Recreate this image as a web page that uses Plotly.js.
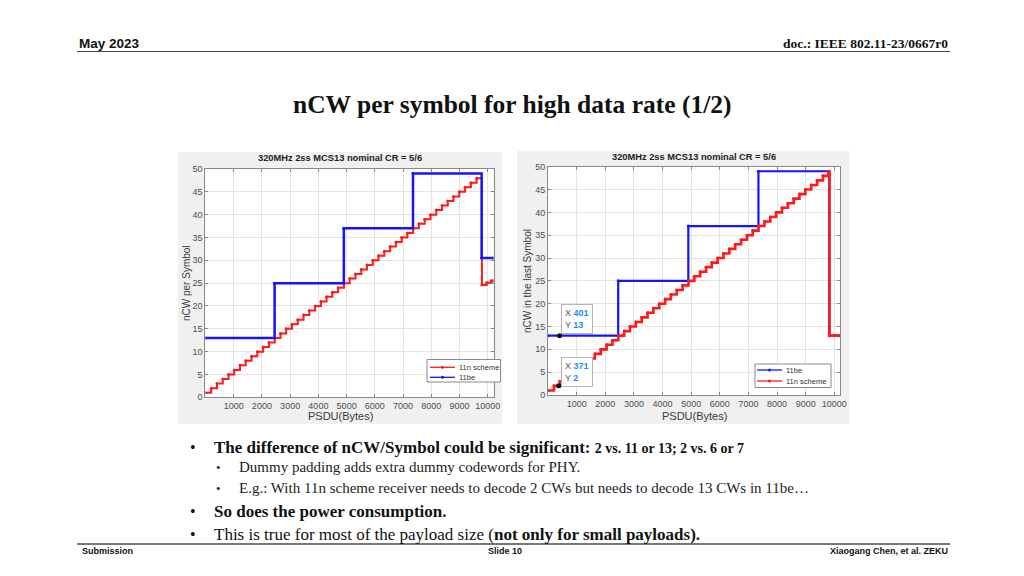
<!DOCTYPE html>
<html><head><meta charset="utf-8">
<script src="https://cdn.plot.ly/plotly-3.0.1.min.js"></script>
<style>html,body{margin:0;padding:0;background:#fff;}#chart{width:1024px;height:576px;}</style>
</head><body><div id="chart"></div>
<script>
// ---- data ----
const chartTitle = "320MHz 2ss MCS13 nominal CR = 5/6";
const xTicks = [1000,2000,3000,4000,5000,6000,7000,8000,9000,10000];
const yTicks = [0,5,10,15,20,25,30,35,40,45,50];

// left chart: nCW per Symbol
const leftN11X = [0,205,410,615,820,1020,1225,1430,1635,1840,2045,2250,2455,2660,2860,3065,3270,3475,3680,3885,4090,4290,4495,4700,4905,5110,5315,5520,5720,5925,6130,6335,6540,6745,6950,7150,7355,7560,7765,7970,8175,8380,8580,8785,8990,9195,9400,9605,9790,9960,10130,10200];
const leftN11Y = [1,2,3,4,5,6,7,8,9,10,11,12,13,14,15,16,17,18,19,20,21,22,23,24,25,26,27,28,29,30,31,32,33,34,35,36,37,38,39,40,41,42,43,44,45,46,47,48,24.6,25.1,25.5,25.5];
const leftBeX = [0,2450,4900,7350,9780,10200];
const leftBeY = [13,25,37,49,30.5,30.5];
const leftSeries = ['11n scheme', '11be'];

// right chart: nCW in the last Symbol
const rightN11X = [0,205,410,615,820,1020,1225,1430,1635,1840,2045,2250,2455,2660,2860,3065,3270,3475,3680,3885,4090,4290,4495,4700,4905,5110,5315,5520,5720,5925,6130,6335,6540,6745,6950,7150,7355,7560,7765,7970,8175,8380,8580,8785,8990,9195,9400,9605,9790,9830,10200];
const rightN11Y = [1,2,3,4,5,6,7,8,9,10,11,12,13,14,15,16,17,18,19,20,21,22,23,24,25,26,27,28,29,30,31,32,33,34,35,36,37,38,39,40,41,42,43,44,45,46,47,48,49,13,13];
const rightBeX = [0,2450,4900,7350,9830,10200];
const rightBeY = [13,25,37,49,13,13];
const rightSeries = ['11be', '11n scheme'];

// data tips on the right chart
const tipX = [401, 371];
const tipY = [13, 2];

const RED = '#ff1a1a', BLUE = '#1414ff';
const W = 1024, H = 576;
const px = x => x / W, py = y => 1 - y / H;

const traces = [
  {x: leftN11X, y: leftN11Y, xaxis: 'x', yaxis: 'y', name: leftSeries[0], mode: 'lines+markers',
   line: {shape: 'hv', color: RED, width: 2}, marker: {size: 3, color: RED}},
  {x: leftBeX, y: leftBeY, xaxis: 'x', yaxis: 'y', name: leftSeries[1], mode: 'lines+markers',
   line: {shape: 'hv', color: BLUE, width: 2.5}, marker: {size: 3, color: BLUE}},
  {x: rightBeX, y: rightBeY, xaxis: 'x2', yaxis: 'y2', name: rightSeries[0], mode: 'lines+markers',
   line: {shape: 'hv', color: BLUE, width: 2.2}, marker: {size: 3, color: BLUE}},
  {x: rightN11X, y: rightN11Y, xaxis: 'x2', yaxis: 'y2', name: rightSeries[1], mode: 'lines+markers',
   line: {shape: 'hv', color: RED, width: 2.6}, marker: {size: 3, color: RED}},
  {x: tipX, y: tipY, xaxis: 'x2', yaxis: 'y2', mode: 'markers', name: 'data tip',
   marker: {size: 5, color: '#111'}}
];

const tickFont = {family: 'Liberation Sans, Arial, sans-serif', size: 9, color: '#4d4d4d'};
function xa(domain, anchor) {
  return {domain: domain, anchor: anchor, range: [0, 10200], tickvals: xTicks, ticktext: xTicks.map(String),
    showgrid: true, gridcolor: '#e3e3e3', gridwidth: 1, zeroline: false,
    showline: true, mirror: 'ticks', linecolor: '#8a8a8a', linewidth: 1,
    ticks: 'inside', ticklen: 3, tickcolor: '#8a8a8a', tickfont: tickFont, fixedrange: true};
}
function ya(domain, anchor) {
  return {domain: domain, anchor: anchor, range: [0, 50], tickvals: yTicks, ticktext: yTicks.map(String),
    showgrid: true, gridcolor: '#e3e3e3', gridwidth: 1, zeroline: false,
    showline: true, mirror: 'ticks', linecolor: '#8a8a8a', linewidth: 1,
    ticks: 'inside', ticklen: 3, tickcolor: '#8a8a8a', tickfont: tickFont, fixedrange: true};
}

const serif = 'Liberation Serif, Times New Roman, serif';
const narrow = 'Liberation Sans Narrow, Arial Narrow, Liberation Sans, sans-serif';
const sans = 'Liberation Sans, Arial, sans-serif';

function txt(x, y, text, opts) {
  return Object.assign({xref: 'paper', yref: 'paper', x: px(x), y: py(y), text: text,
    showarrow: false, xanchor: 'left', yanchor: 'middle'}, opts || {});
}

const legendFont = {family: sans, size: 7.5, color: '#333'};
const annotations = [
  txt(77, 44, '<b>May 2023</b>', {font: {family: narrow, size: 13.5, color: '#111'}}),
  txt(950, 44, '<b>doc.: IEEE 802.11-23/0667r0</b>', {xanchor: 'right', font: {family: serif, size: 13.5, color: '#111'}}),
  txt(512, 104, '<b>nCW per symbol for high data rate (1/2)</b>', {xanchor: 'center', font: {family: serif, size: 25.5, color: '#111'}}),
  // chart texts
  txt(340, 158, '<b>' + chartTitle + '</b>', {xanchor: 'center', font: {family: sans, size: 9.3, color: '#222'}}),
  txt(694, 157, '<b>' + chartTitle + '</b>', {xanchor: 'center', font: {family: sans, size: 9.3, color: '#222'}}),
  txt(340, 416, 'PSDU(Bytes)', {xanchor: 'center', font: {family: sans, size: 11, color: '#3a3a3a'}}),
  txt(694, 416, 'PSDU(Bytes)', {xanchor: 'center', font: {family: sans, size: 11, color: '#3a3a3a'}}),
  txt(186, 283, 'nCW per Symbol', {xanchor: 'center', textangle: -90, font: {family: sans, size: 10, color: '#3a3a3a'}}),
  txt(527, 281, 'nCW in the last Symbol', {xanchor: 'center', textangle: -90, font: {family: sans, size: 10, color: '#3a3a3a'}}),
  // data tips
  txt(561, 304, 'X <b><span style="color:#1a8cff">' + tipX[0] + '</span></b><br>Y <b><span style="color:#1a8cff">' + tipY[0] + '</span></b>',
    {yanchor: 'top', align: 'left', bgcolor: '#ffffff', bordercolor: '#b5b5b5', borderwidth: 1, borderpad: 3,
     font: {family: sans, size: 9, color: '#555'}}),
  txt(561, 357, 'X <b><span style="color:#1a8cff">' + tipX[1] + '</span></b><br>Y <b><span style="color:#1a8cff">' + tipY[1] + '</span></b>',
    {yanchor: 'top', align: 'left', bgcolor: '#ffffff', bordercolor: '#b5b5b5', borderwidth: 1, borderpad: 3,
     font: {family: sans, size: 9, color: '#555'}}),
  // custom legends
  txt(457, 367.3, leftSeries[0], {font: legendFont}),
  txt(457, 377.3, leftSeries[1], {font: legendFont}),
  txt(784, 370, rightSeries[0], {font: legendFont}),
  txt(784, 381, rightSeries[1], {font: legendFont}),
  // bullets
  txt(188, 447, '•', {font: {family: serif, size: 16, color: '#111'}}),
  txt(212, 447, '<b>The difference of nCW/Symbol could be significant: <span style="font-size:14px">2 vs. 11 or 13; 2 vs. 6 or 7</span></b>', {font: {family: serif, size: 17, color: '#111'}}),
  txt(214, 467, '•', {font: {family: serif, size: 13, color: '#222'}}),
  txt(237, 467, 'Dummy padding adds extra dummy codewords for PHY.', {font: {family: serif, size: 15, color: '#222'}}),
  txt(214, 488, '•', {font: {family: serif, size: 13, color: '#222'}}),
  txt(237, 488, 'E.g.: With 11n scheme receiver needs to decode 2 CWs but needs to decode 13 CWs in 11be…', {font: {family: serif, size: 15, color: '#222'}}),
  txt(188, 511, '•', {font: {family: serif, size: 16, color: '#111'}}),
  txt(212, 511, '<b>So does the power consumption.</b>', {font: {family: serif, size: 17, color: '#111'}}),
  txt(188, 534, '•', {font: {family: serif, size: 16, color: '#111'}}),
  txt(212, 534, 'This is true for most of the payload size (<b>not only for small payloads).</b>', {font: {family: serif, size: 17, color: '#111'}}),
  // footer
  txt(80, 551, '<b>Submission</b>', {font: {family: narrow, size: 9, color: '#111'}}),
  txt(505, 551, '<b>Slide 10</b>', {xanchor: 'center', font: {family: narrow, size: 9, color: '#111'}}),
  txt(950, 551, '<b>Xiaogang Chen, et al. ZEKU</b>', {xanchor: 'right', font: {family: narrow, size: 9, color: '#111'}})
];

function rect(x0, y0, x1, y1, fill, layer, lineColor) {
  return {type: 'rect', xref: 'paper', yref: 'paper', x0: px(x0), x1: px(x1), y0: py(y1), y1: py(y0),
    fillcolor: fill, line: lineColor ? {color: lineColor, width: 1} : {width: 0}, layer: layer || 'below'};
}
function hline(x0, x1, y, color, width) {
  return {type: 'line', xref: 'paper', yref: 'paper', x0: px(x0), x1: px(x1), y0: py(y), y1: py(y),
    line: {color: color, width: width}, layer: 'above'};
}
function dot(x, y, color) {
  return {type: 'circle', xref: 'paper', yref: 'paper', x0: px(x - 1.5), x1: px(x + 1.5), y0: py(y + 1.5), y1: py(y - 1.5),
    fillcolor: color, line: {width: 0}, layer: 'above'};
}
const shapes = [
  rect(178, 152, 502, 424, '#f0f0f0'),
  rect(517, 151, 849, 424, '#f0f0f0'),
  rect(205.4, 169, 493.5, 397.3, '#ffffff'),
  rect(548.1, 166.7, 840, 395, '#ffffff'),
  hline(77, 950, 51.5, '#444', 1),
  hline(77, 950, 544, '#777', 2),
  // left legend
  rect(427, 359.5, 500.5, 382, '#ffffff', 'above', '#8a8a8a'),
  hline(430, 455, 367.3, RED, 1.3), dot(442.5, 367.3, RED),
  hline(430, 455, 377.3, BLUE, 1.3), dot(442.5, 377.3, BLUE),
  // right legend
  rect(755, 364, 831, 387.5, '#ffffff', 'above', '#8a8a8a'),
  hline(757, 782, 370, BLUE, 1.3), dot(769.5, 370, BLUE),
  hline(757, 782, 381, RED, 1.3), dot(769.5, 381, RED)
];

const layout = {
  width: W, height: H, margin: {l: 0, r: 0, t: 0, b: 0},
  paper_bgcolor: '#ffffff', plot_bgcolor: 'rgba(0,0,0,0)',
  xaxis: xa([205.4 / W, 493.5 / W], 'y'),
  yaxis: ya([1 - 397.3 / H, 1 - 169 / H], 'x'),
  xaxis2: xa([548.1 / W, 840 / W], 'y2'),
  yaxis2: ya([1 - 395 / H, 1 - 166.7 / H], 'x2'),
  showlegend: false,
  annotations: annotations,
  shapes: shapes
};

Plotly.newPlot('chart', traces, layout, {staticPlot: true, displayModeBar: false});
</script>
</body></html>
